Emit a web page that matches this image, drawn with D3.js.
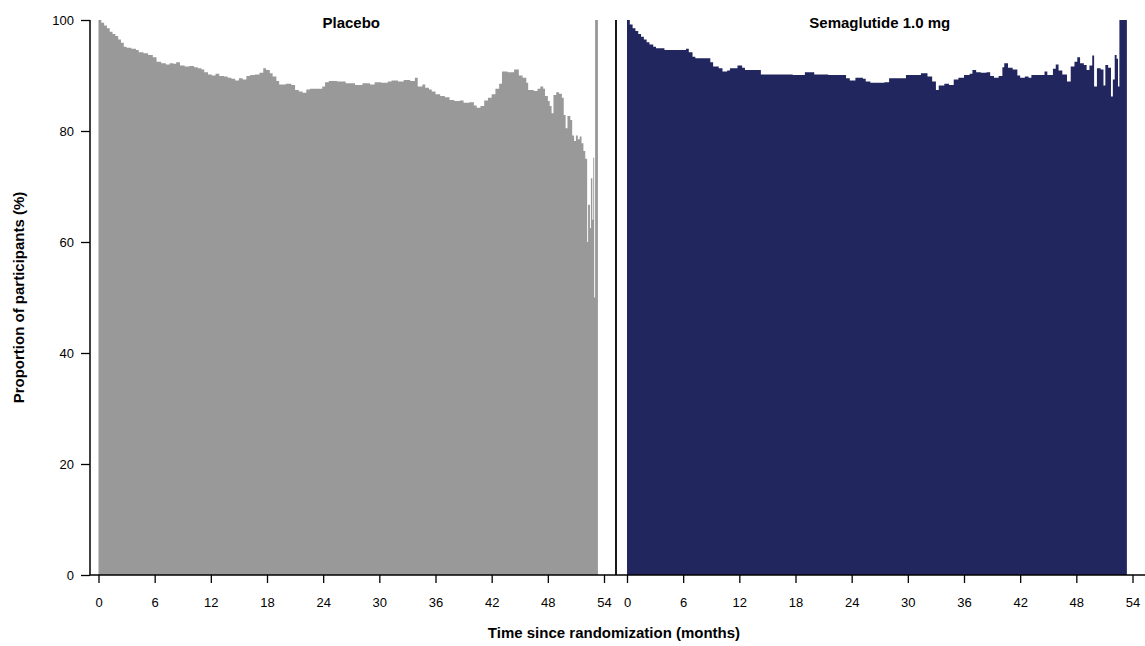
<!DOCTYPE html>
<html>
<head>
<meta charset="utf-8">
<script src="https://cdn.jsdelivr.net/npm/d3@7"></script>
<style>
  html, body { margin: 0; padding: 0; background: #ffffff; }
  svg { display: block; font-family: "Liberation Sans", Arial, sans-serif; }
</style>
</head>
<body>
<svg id="chart" width="1145" height="646"></svg>
<script>
// Proportion of participants over time, step data per arm (month, %)
const placeboMonths = [0,0.3,0.6,0.9,1.2,1.5,1.8,2.1,2.4,2.7,3.0,3.5,4.0,4.3,4.8,5.3,5.8,6.2,6.7,7.2,7.6,8.0,8.3,8.7,9.2,9.7,10.2,10.6,11.0,11.3,11.7,12.1,12.5,12.9,13.4,13.8,14.2,14.6,15.0,15.4,15.8,16.2,16.7,17.2,17.6,17.9,18.3,18.6,19.0,19.3,20.0,20.6,21.0,21.4,21.8,22.2,22.6,23.9,24.2,24.6,25.5,26.4,27.4,28.2,29.0,29.5,30.2,30.9,31.3,32.0,32.6,33.3,33.8,34.1,34.6,34.9,35.3,35.6,36.0,36.5,37.0,37.5,38.0,38.6,39.0,39.6,40.1,40.4,40.8,41.2,41.6,42.0,42.4,42.8,43.1,43.7,44.4,44.9,45.3,45.7,45.9,46.5,46.9,47.2,47.5,47.7,48.0,48.2,48.4,48.6,48.9,49.2,49.5,49.7,49.9,50.1,50.4,50.6,50.8,51.0,51.2,51.4,51.6,51.8,52.0,52.2,52.3,52.5,52.6,52.75,52.85,52.95,53.05];
const placeboValues = [100,99.5,99.0,98.5,97.9,97.5,97.1,96.5,95.9,95.2,95.0,94.8,94.6,94.2,94.0,93.7,93.3,92.5,92.2,92.0,92.2,92.1,92.4,91.8,91.6,91.7,91.5,91.3,91.1,90.6,90.2,90.0,90.3,89.9,89.8,89.6,89.4,89.1,89.5,89.3,89.9,90.1,90.2,90.5,91.3,91.0,90.4,89.8,89.0,88.4,88.5,88.3,87.4,87.1,86.9,87.5,87.6,88.0,88.8,89.0,88.9,88.6,88.3,88.6,88.4,88.8,88.7,88.9,89.1,88.9,89.2,89.0,89.6,88.0,88.4,87.8,87.5,87.1,86.6,86.3,86.1,85.6,85.4,85.5,85.1,85.2,84.6,84.2,84.5,85.5,86.0,86.6,87.6,88.5,90.7,90.6,91.1,90.0,89.6,88.7,87.4,87.2,87.6,88.0,87.6,86.3,85.4,84.5,83.2,86.5,87.0,86.7,86.0,82.9,80.5,82.7,82.0,79.2,78.2,79.2,78.5,79.0,77.8,76.4,75.0,60.0,66.7,62.5,71.5,64.0,75.2,50.0,100];
const placeboEnd = 53.35;

const semaMonths = [0,0.3,0.6,0.9,1.2,1.5,1.8,2.1,2.4,2.8,3.1,4.0,6.3,6.6,7.0,7.3,8.9,9.2,9.8,10.2,10.7,11.0,11.8,12.3,12.6,14.3,17.7,19.0,20.0,21.5,23.4,23.8,24.4,25.2,25.5,26.0,27.5,28.0,29.8,31.4,32.1,32.6,33.0,33.3,33.9,34.4,34.9,35.4,36.0,36.6,36.9,37.3,37.8,38.4,38.8,39.2,39.7,40.1,40.3,40.7,41.2,41.7,42.0,42.5,42.9,43.2,44.6,44.9,45.5,45.8,46.1,46.5,47.0,47.4,47.8,48.1,48.4,48.8,49.1,49.4,49.7,49.9,50.2,50.6,50.9,51.1,51.4,51.7,51.9,52.1,52.3,52.45,52.6];
const semaValues = [100,99.2,98.5,98.0,97.5,97.0,96.5,96.0,95.6,95.2,94.9,94.6,94.8,94.2,93.4,93.1,92.4,91.6,91.3,90.7,90.9,91.3,91.8,91.4,91.0,90.2,90.1,90.6,90.2,90.1,89.5,89.1,89.6,89.4,88.9,88.7,88.8,89.5,90.1,90.4,89.8,88.9,87.4,88.2,88.5,88.3,89.3,89.6,90.1,90.3,91.0,90.6,90.5,90.6,89.9,89.6,89.9,91.5,92.2,91.4,91.1,90.0,89.6,89.8,89.6,90.1,90.7,90.1,91.2,92.0,90.9,90.2,88.9,91.6,92.5,93.3,92.2,91.9,91.0,91.8,93.6,88.0,91.3,91.1,88.2,91.9,91.4,86.2,89.3,93.7,93.0,88.0,100];
const semaEnd = 53.4;

const panelTitles = ["Placebo", "Semaglutide 1.0 mg"];
const xTicks = [0, 6, 12, 18, 24, 30, 36, 42, 48, 54];
const yTicks = [0, 20, 40, 60, 80, 100];
const yAxisTitle = "Proportion of participants (%)";
const xAxisTitle = "Time since randomization (months)";

const svg = d3.select("#chart");
const plotTop = 20, plotBottom = 575;
const tickFont = 13;

const y = d3.scaleLinear().domain([0, 100]).range([plotBottom, plotTop]);

const panels = [
  { title: panelTitles[0], months: placeboMonths, values: placeboValues, end: placeboEnd,
    color: "#999999", range: [98.5, 604] },
  { title: panelTitles[1], months: semaMonths, values: semaValues, end: semaEnd,
    color: "#22265e", range: [627, 1132.5] }
];

panels.forEach(p => {
  const x = d3.scaleLinear().domain([0, 54]).range(p.range);
  const pts = p.months.map((m, i) => [m, p.values[i]]);
  pts.push([p.end, p.values[p.values.length - 1]]);

  const area = d3.area()
    .x(d => x(d[0]))
    .y0(y(0))
    .y1(d => y(d[1]))
    .curve(d3.curveStepAfter);

  svg.append("path")
    .datum(pts)
    .attr("d", area)
    .attr("fill", p.color);

  // x axis ticks and labels
  const ax = svg.append("g")
    .attr("transform", `translate(0,${plotBottom})`)
    .call(d3.axisBottom(x).tickValues(xTicks).tickSize(8).tickPadding(15).tickFormat(d3.format("d")));
  ax.select(".domain").remove();
  ax.selectAll(".tick line").attr("stroke", "#000").attr("stroke-width", 1.3);
  ax.selectAll(".tick text").attr("font-size", tickFont).attr("fill", "#000")
    .attr("font-family", "Liberation Sans, Arial, sans-serif");

  svg.append("text")
    .attr("x", (p.range[0] + p.range[1]) / 2)
    .attr("y", 28)
    .attr("text-anchor", "middle")
    .attr("font-size", 15)
    .attr("font-weight", "bold")
    .text(p.title);
});

// y axis
const yAx = svg.append("g")
  .attr("transform", "translate(90,0)")
  .call(d3.axisLeft(y).tickValues(yTicks).tickSize(9).tickPadding(7).tickFormat(d3.format("d")));
yAx.select(".domain").attr("stroke", "#000").attr("stroke-width", 1.5).attr("d", `M0,${plotTop}V${plotBottom}`);
yAx.selectAll(".tick line").attr("stroke", "#000").attr("stroke-width", 1.3);
yAx.selectAll(".tick text").attr("font-size", tickFont).attr("fill", "#000")
  .attr("font-family", "Liberation Sans, Arial, sans-serif");

// baseline and panel separator
svg.append("line")
  .attr("x1", 90).attr("x2", 1145)
  .attr("y1", plotBottom).attr("y2", plotBottom)
  .attr("stroke", "#000").attr("stroke-width", 1.5);
svg.append("line")
  .attr("x1", 616).attr("x2", 616)
  .attr("y1", plotTop).attr("y2", plotBottom)
  .attr("stroke", "#000").attr("stroke-width", 1.8);

// axis titles
svg.append("text")
  .attr("x", 614).attr("y", 638)
  .attr("text-anchor", "middle")
  .attr("font-size", 15).attr("font-weight", "bold")
  .text(xAxisTitle);
svg.append("text")
  .attr("transform", `translate(24,${(plotTop + plotBottom) / 2}) rotate(-90)`)
  .attr("text-anchor", "middle")
  .attr("font-size", 15).attr("font-weight", "bold")
  .text(yAxisTitle);
</script>
</body>
</html>
